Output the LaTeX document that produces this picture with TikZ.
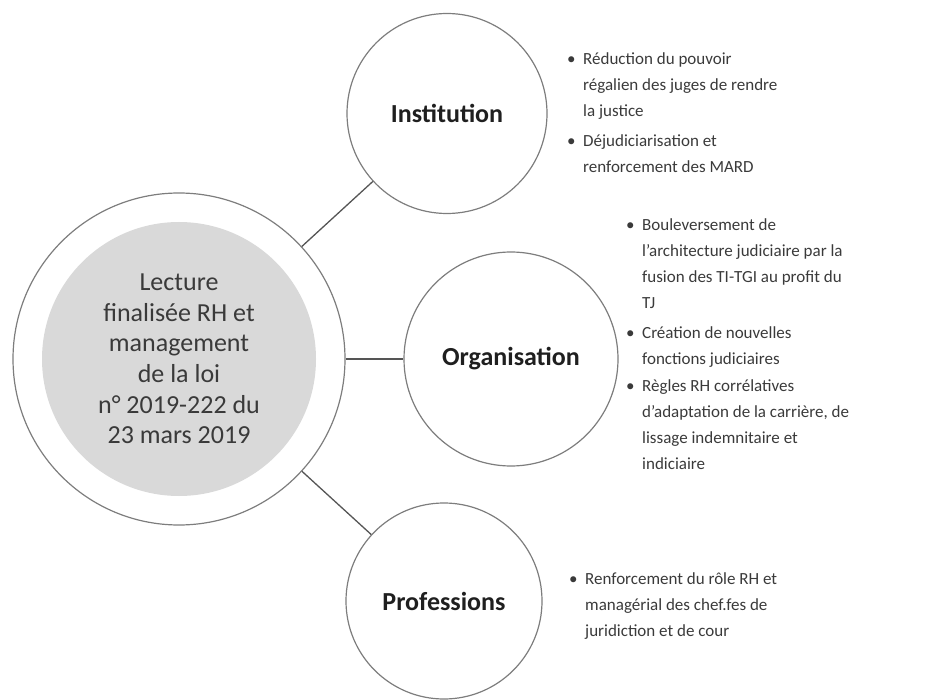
\documentclass[tikz,border=0pt]{standalone}
\usepackage{fontspec}
\setmainfont{Carlito}
\usetikzlibrary{shapes}

\definecolor{traitcercle}{RGB}{125,125,125}
\definecolor{traitlien}{RGB}{85,85,85}
\definecolor{fondcoeur}{RGB}{217,217,217}
\definecolor{textegris}{RGB}{58,58,58}

\newcommand{\puce}{\makebox[16pt][l]{\textbullet}}

\begin{document}
\begin{tikzpicture}[x=1pt,y=1pt,yscale=-1,xscale=1,
  cercle/.style={circle,draw=traitcercle,line width=1.2pt,inner sep=0pt},
  bulle/.style={cercle,font=\fontsize{26}{31}\selectfont\bfseries,text=black!88},
  lien/.style={draw=traitlien,line width=1.3pt},
  liste/.style={anchor=base west,inner sep=0pt,text=textegris,font=\fontsize{17}{26}\selectfont}]
%uncomment if require: \path (0,700); %set diagram left start at 0, and has height of 700
\useasboundingbox (0,0) rectangle (934,700);

%Shape: Circle (grey core with title)
\node (coeur) [circle,fill=fondcoeur,minimum size=274,inner sep=0pt,align=center,text=textegris,font=\fontsize{26}{30.6}\selectfont] at (179,359) {Lecture\\finalisée RH et\\management\\de la loi\\n° 2019-222 du\\23 mars 2019};
%Shape: Circle (outer ring)
\node (loi) [cercle,minimum size=332] at (179,359) {};

%Shape: Circle
\node (institution) [bulle,minimum size=200] at (447,113.5) {Institution};
%Shape: Circle
\node (organisation) [bulle,minimum size=214] at (511,359) {Organisation};
%Shape: Circle
\node (professions) [bulle,minimum size=196] at (444,601) {Professions};

%Straight Lines
\draw [lien] (loi) -- (institution);
\draw [lien] (loi) -- (organisation);
\draw [lien] (loi) -- (professions);

% Text Node
\node (listeinst) [liste] at (567,65) {\begin{tabular}[t]{@{}l@{}l@{}}
\puce & Réduction du pouvoir\\
 & régalien des juges de rendre\\
 & la justice\\[4pt]
\puce & Déjudiciarisation et\\
 & renforcement des MARD
\end{tabular}};
% Text Node
\node (listeorga) [liste] at (626,230.7) {\begin{tabular}[t]{@{}l@{}l@{}}
\puce & Bouleversement de\\
 & l’architecture judiciaire par la\\
 & fusion des TI-TGI au profit du\\
 & TJ\\[4pt]
\puce & Création de nouvelles\\
 & fonctions judiciaires\\[1pt]
\puce & Règles RH corrélatives\\
 & d’adaptation de la carrière, de\\
 & lissage indemnitaire et\\
 & indiciaire
\end{tabular}};
% Text Node
\node (listepro) [liste] at (569,584) {\begin{tabular}[t]{@{}l@{}l@{}}
\puce & Renforcement du rôle RH et\\
 & managérial des chef.fes de\\
 & juridiction et de cour
\end{tabular}};

\end{tikzpicture}
\end{document}
